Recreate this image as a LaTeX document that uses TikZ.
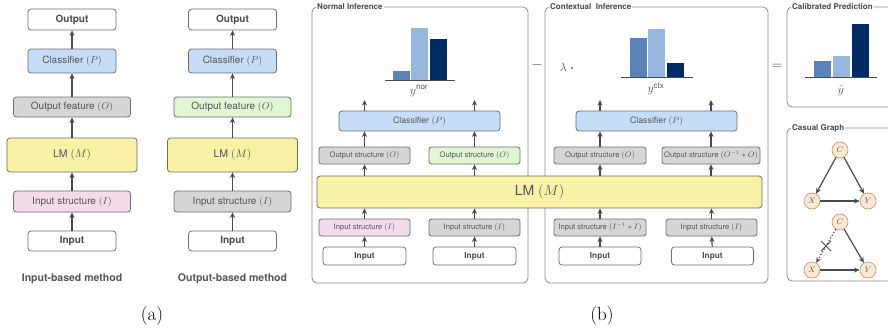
\documentclass[tikz,border=0pt]{standalone}
\usepackage{amsmath}
\usepackage{fontspec}
\setsansfont{TeX Gyre Heros}
\usetikzlibrary{arrows.meta,shapes.misc}
\definecolor{boxline}{HTML}{6E6E6E}
\definecolor{frameline}{HTML}{8A8A8A}
\definecolor{txt}{HTML}{555555}
\definecolor{arr}{HTML}{4A4A4A}
\definecolor{clsfill}{HTML}{C6DDF7}
\definecolor{grayfill}{HTML}{D6D6D6}
\definecolor{lmfill}{HTML}{F9F1A5}
\definecolor{pinkfill}{HTML}{F4DBE9}
\definecolor{greenfill}{HTML}{E0F7D4}
\definecolor{nodefill}{HTML}{FDE8D3}
\definecolor{nodeline}{HTML}{C79B74}
\definecolor{barA}{HTML}{5A84B8}
\definecolor{barB}{HTML}{97B8DC}
\definecolor{barC}{HTML}{002A62}

\begin{document}
\begin{tikzpicture}[x=1pt,y=-1pt,
  box/.style={draw=boxline,rounded corners=3pt,line width=0.8pt,inner sep=0,text=txt,font=\sffamily\fontsize{10}{12}\selectfont},
  sbox/.style={box,rounded corners=2.5pt,font=\sffamily\fontsize{7.6}{9}\selectfont},
  sz/.style n args={2}{minimum width=#1pt,minimum height=#2pt},
  io/.style={text=arr,font=\sffamily\bfseries\fontsize{10}{12}\selectfont},
  sio/.style={text=arr,font=\sffamily\bfseries\fontsize{8.2}{10}\selectfont},
  up/.style={-{Stealth[length=5.5pt,width=5pt]},line width=1.2pt,draw=arr},
  frame/.style={draw=frameline,line width=0.8pt,rounded corners=5pt},
  title/.style={fill=white,inner sep=1pt,anchor=west,text=arr,font=\sffamily\bfseries\fontsize{8}{9}\selectfont},
  cnode/.style={circle,draw=nodeline,fill=nodefill,line width=0.7pt,minimum size=16pt,inner sep=0,font=\fontsize{8}{9}\selectfont,text=txt},
  base/.style={line width=0.9pt,draw=arr}]
\clip (0,0) rectangle (888,333);

\node[box,io,sz={88}{21},fill=white] (outA) at (72,19.5) {Output};
\node[box,sz={88}{24},fill=clsfill] (clsA) at (72,61) {Classifier $(P)$};
\node[box,sz={117}{20},fill=grayfill] (ofA) at (72,107) {Output feature $(O)$};
\node[box,sz={130}{34},fill=lmfill,font=\sffamily\fontsize{10.5}{12}\selectfont] (lmA) at (72,155) {LM $(M)$};
\node[box,sz={117}{21},fill=pinkfill] (isA) at (72,201.5) {Input structure $(I)$};
\node[box,io,sz={88}{20},fill=white] (inA) at (72,241) {Input};
\draw[up] (inA) -- (isA);
\draw[up] (isA) -- (lmA);
\draw[up] (lmA) -- (ofA);
\draw[up] (ofA) -- (clsA);
\draw[up] (clsA) -- (outA);
\node[text=txt,font=\sffamily\bfseries\fontsize{10.5}{12}\selectfont] (capA) at (72,279) {Input-based method};

\node[box,io,sz={88}{21},fill=white] (outB) at (232.5,19.5) {Output};
\node[box,sz={88}{24},fill=clsfill] (clsB) at (232.5,61) {Classifier $(P)$};
\node[box,sz={117}{20},fill=greenfill] (ofB) at (232.5,107) {Output feature $(O)$};
\node[box,sz={130}{34},fill=lmfill,font=\sffamily\fontsize{10.5}{12}\selectfont] (lmB) at (232.5,155) {LM $(M)$};
\node[box,sz={117}{21},fill=grayfill] (isB) at (232.5,201.5) {Input structure $(I)$};
\node[box,io,sz={88}{20},fill=white] (inB) at (232.5,241) {Input};
\draw[up] (inB) -- (isB);
\draw[up] (isB) -- (lmB);
\draw[up] (lmB) -- (ofB);
\draw[up] (ofB) -- (clsB);
\draw[up] (clsB) -- (outB);
\node[text=txt,font=\sffamily\bfseries\fontsize{10.5}{12}\selectfont] (capB) at (232.5,279) {Output-based method};

\node[font=\fontsize{19}{22}\selectfont] (suba) at (152,316) {(a)};
\node[font=\fontsize{19}{22}\selectfont] (subb) at (602,316) {(b)};

\draw[frame] (312,7) rectangle (528,283);
\node[title] (tnor) at (316,7) {Normal Inference};
\draw[frame] (545,7) rectangle (768,283);
\node[title] (tctx) at (549,7) {Contextual\ \ Inference};
\draw[frame] (787,7) rectangle (900,107);
\node[title] (tcal) at (791,7) {Calibrated Prediction};
\draw[frame] (787,128) rectangle (900,281);
\node[title] (tcg) at (791,128) {Casual Graph};

\fill[barA] (393,80) rectangle (410,71);
\fill[barB] (411,80) rectangle (428,28);
\fill[barC] (430,80) rectangle (447,39);
\draw[base] (385,80) -- (455,80);
\node[text=txt,font=\fontsize{12}{14}\selectfont] (ynor) at (419,91) {$y^{\textsf{nor}}$};

\node[box,sz={161}{20},fill=clsfill,font=\sffamily\fontsize{8.8}{10}\selectfont] (clsN) at (419.5,121) {Classifier $(P)$};
\node[sbox,sz={91}{17},fill=grayfill] (osN1) at (364.5,155.5) {Output structure $(O)$};
\node[sbox,sz={91}{17},fill=greenfill] (osN2) at (474.5,155.5) {Output structure $(O)$};
\node[sbox,sz={91}{17},fill=pinkfill] (isN1) at (364.5,227.5) {Input structure $(I)$};
\node[sbox,sz={91}{17},fill=grayfill] (isN2) at (474.5,227.5) {Input structure $(I)$};
\node[box,sio,sz={83}{18},fill=white] (inN1) at (364.5,256) {Input};
\node[box,sio,sz={83}{18},fill=white] (inN2) at (474.5,256) {Input};
\coordinate (topN1) at (364.5,100);
\coordinate (topN2) at (474.5,100);

\node[text=arr,font=\fontsize{14}{16}\selectfont] (minus) at (537,65) {$-$};
\node[text=arr,font=\fontsize{12}{14}\selectfont] (lam) at (567,67) {$\lambda\;\boldsymbol{\cdot}$};

\fill[barA] (630,77) rectangle (647,38);
\fill[barB] (648,77) rectangle (665,29);
\fill[barC] (667,77) rectangle (684,63);
\draw[base] (621,77) -- (693,77);
\node[text=txt,font=\fontsize{12}{14}\selectfont] (yctx) at (656,89) {$y^{\textsf{ctx}}$};

\node[box,sz={161}{20},fill=clsfill,font=\sffamily\fontsize{8.8}{10}\selectfont] (clsC) at (656.5,121) {Classifier $(P)$};
\node[sbox,sz={92}{17},fill=grayfill] (osC1) at (600,155.5) {Output structure $(O)$};
\node[sbox,sz={98}{17},fill=grayfill] (osC2) at (711,155.5) {Output structure $(O^{-1}*O)$};
\node[sbox,sz={92}{17},fill=grayfill] (isC1) at (600,227.5) {Input structure $(I^{-1}*I)$};
\node[sbox,sz={91}{17},fill=grayfill] (isC2) at (711.5,227.5) {Input structure $(I)$};
\node[box,sio,sz={82}{18},fill=white] (inC1) at (600,256) {Input};
\node[box,sio,sz={82}{18},fill=white] (inC2) at (712.5,256) {Input};
\coordinate (topC1) at (600,100);
\coordinate (topC2) at (711,100);

\node[box,sz={445}{32},fill=lmfill,font=\sffamily\fontsize{14}{16}\selectfont] (lm) at (539.5,192) {LM $(M)$};

\foreach \i/\s/\o/\c/\t in {N1/isN1/osN1/clsN/topN1,N2/isN2/osN2/clsN/topN2,C1/isC1/osC1/clsC/topC1,C2/isC2/osC2/clsC/topC2} {
  \draw[up] (in\i) -- (\s);
  \draw[up] (\s.north) -- (\s.north |- lm.south);
  \draw[up] (\o.south |- lm.north) -- (\o.south);
  \draw[up] (\o.north) -- (\o.north |- \c.south);
  \draw[up] (\t |- \c.north) -- (\t);
}

\node[text=arr,font=\fontsize{14}{16}\selectfont] (eq) at (777,67) {$=$};

\fill[barA] (814,77) rectangle (831,61);
\fill[barB] (833,77) rectangle (850,56);
\fill[barC] (852,77) rectangle (869,24);
\draw[base] (805,77) -- (877,77);
\node[text=txt,font=\fontsize{12}{14}\selectfont] (yhat) at (841,90) {$\hat{y}$};

\node[cnode] (c1) at (840,150) {$C$};
\node[cnode] (x1) at (812,201) {$X$};
\node[cnode] (y1) at (868,201) {$Y$};
\node[cnode] (c2) at (840,222) {$C$};
\node[cnode] (x2) at (812,270) {$X$};
\node[cnode] (y2) at (868,270) {$Y$};
\draw[up] (c1) -- (x1);
\draw[up] (c1) -- (y1);
\draw[up] (x1) -- (y1);
\draw[up,dotted] (c2) -- node[cross out,solid,draw=arr,line width=1pt,minimum size=9pt,inner sep=0] (cut) {} (x2);
\draw[up] (c2) -- (y2);
\draw[up] (x2) -- (y2);
\end{tikzpicture}
\end{document}
